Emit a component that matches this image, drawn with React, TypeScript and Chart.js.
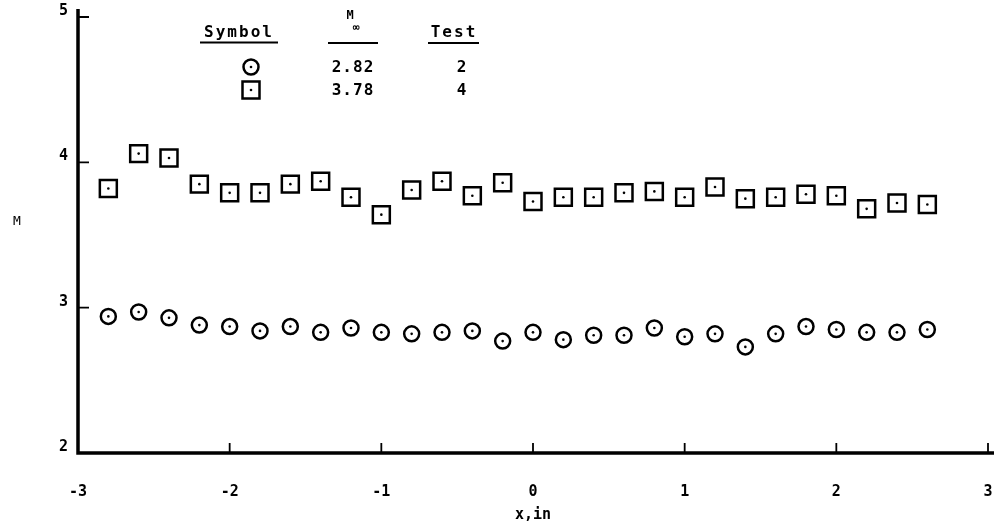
import { useEffect, useRef } from "react";
import { Chart, registerables } from "chart.js";

Chart.register(...registerables);

// Survey stations along the model (inches)
const stations = [
  -2.8, -2.6, -2.4, -2.2, -2.0, -1.8, -1.6, -1.4, -1.2, -1.0, -0.8, -0.6, -0.4, -0.2,
  0.0, 0.2, 0.4, 0.6, 0.8, 1.0, 1.2, 1.4, 1.6, 1.8, 2.0, 2.2, 2.4, 2.6,
];

// Local Mach number, test 2 (M∞ = 2.82)
const machTest2 = [
  2.94, 2.97, 2.93, 2.88, 2.87, 2.84, 2.87, 2.83, 2.86, 2.83, 2.82, 2.83, 2.84, 2.77,
  2.83, 2.78, 2.81, 2.81, 2.86, 2.8, 2.82, 2.73, 2.82, 2.87, 2.85, 2.83, 2.83, 2.85,
];

// Local Mach number, test 4 (M∞ = 3.78)
const machTest4 = [
  3.82, 4.06, 4.03, 3.85, 3.79, 3.79, 3.85, 3.87, 3.76, 3.64, 3.81, 3.87, 3.77, 3.86,
  3.73, 3.76, 3.76, 3.79, 3.8, 3.76, 3.83, 3.75, 3.76, 3.78, 3.77, 3.68, 3.72, 3.71,
];

const xTicks = [-3, -2, -1, 0, 1, 2, 3];
const yTicks = [2, 3, 4, 5];

const legendSymbols = ["circle", "rect"];
const legendMach = ["2.82", "3.78"];
const legendTest = ["2", "4"];

const MONO = '"DejaVu Sans Mono", "Liberation Mono", monospace';

function drawMarker(ctx: CanvasRenderingContext2D, kind: string, x: number, y: number) {
  ctx.save();
  ctx.lineWidth = 2.5;
  ctx.strokeStyle = "#000";
  ctx.fillStyle = "#fff";
  ctx.beginPath();
  if (kind === "circle") ctx.arc(x, y, 7.5, 0, Math.PI * 2);
  else ctx.rect(x - 8.5, y - 8.5, 17, 17);
  ctx.fill();
  ctx.stroke();
  ctx.fillStyle = "#000";
  ctx.beginPath();
  ctx.arc(x, y, 1.3, 0, Math.PI * 2);
  ctx.fill();
  ctx.restore();
}

// Heavy axis lines with inward-pointing tick marks
const axesPlugin = {
  id: "inwardAxes",
  afterDraw(chart: any) {
    const { ctx, chartArea } = chart;
    const { left, right, top, bottom } = chartArea;
    const xs = chart.scales.x;
    const ys = chart.scales.y;
    ctx.save();
    ctx.strokeStyle = "#000";
    ctx.lineCap = "butt";
    ctx.lineWidth = 3.5;
    ctx.beginPath();
    ctx.moveTo(left, top - 8);
    ctx.lineTo(left, bottom);
    ctx.lineTo(right + 6, bottom);
    ctx.stroke();
    ctx.lineWidth = 1.8;
    ctx.beginPath();
    xTicks.slice(1).forEach((v) => {
      const px = xs.getPixelForValue(v);
      ctx.moveTo(px, bottom);
      ctx.lineTo(px, bottom - 10);
    });
    yTicks.slice(1).forEach((v) => {
      const py = ys.getPixelForValue(v);
      ctx.moveTo(left, py);
      ctx.lineTo(left + 11, py);
    });
    ctx.stroke();
    ctx.restore();
  },
};

// Centre dots in each open marker
const centerDots = {
  id: "centerDots",
  afterDatasetsDraw(chart: any) {
    const { ctx } = chart;
    ctx.save();
    ctx.fillStyle = "#000";
    chart.data.datasets.forEach((_: any, i: number) => {
      chart.getDatasetMeta(i).data.forEach((pt: any) => {
        ctx.beginPath();
        ctx.arc(pt.x, pt.y, 1.3, 0, Math.PI * 2);
        ctx.fill();
      });
    });
    ctx.restore();
  },
};

// Key table and the ordinate label
const keyTable = {
  id: "keyTable",
  afterDraw(chart: any) {
    const { ctx } = chart;
    ctx.save();
    ctx.fillStyle = "#000";
    ctx.strokeStyle = "#000";
    ctx.textAlign = "center";
    ctx.textBaseline = "alphabetic";
    ctx.font = `bold 16px ${MONO}`;
    (ctx as any).letterSpacing = "2px";
    ctx.fillText("Symbol", 239, 37);
    ctx.fillText("Test", 454, 37);
    ctx.font = `bold 12px ${MONO}`;
    (ctx as any).letterSpacing = "0px";
    ctx.fillText("M", 350, 19);
    ctx.font = `bold 11px ${MONO}`;
    ctx.fillText("\u221E", 356, 31);
    ctx.lineWidth = 1.8;
    ctx.beginPath();
    ctx.moveTo(200, 42.5);
    ctx.lineTo(278, 42.5);
    ctx.moveTo(328, 43);
    ctx.lineTo(378, 43);
    ctx.moveTo(428, 43);
    ctx.lineTo(479, 43);
    ctx.stroke();

    ctx.font = `bold 16px ${MONO}`;
    (ctx as any).letterSpacing = "1px";
    ctx.textBaseline = "middle";
    legendSymbols.forEach((s, i) => {
      const y = 67 + i * 23;
      drawMarker(ctx, s, 251, y);
      ctx.fillText(legendMach[i], 353, y + 1);
      ctx.fillText(legendTest[i], 462, y + 1);
    });

    (ctx as any).letterSpacing = "0px";
    ctx.font = `13px ${MONO}`;
    ctx.fillText("M", 17, 222);
    ctx.restore();
  },
};

export default function App() {
  const ref = useRef<HTMLCanvasElement | null>(null);

  useEffect(() => {
    if (!ref.current) return;
    const chart = new Chart(ref.current, {
      type: "scatter",
      data: {
        datasets: [
          {
            label: "Test 2",
            data: stations.map((x, i) => ({ x, y: machTest2[i] })),
            pointStyle: "circle",
            pointRadius: 7.5,
            borderWidth: 2.5,
            borderColor: "#000",
            backgroundColor: "#fff",
          },
          {
            label: "Test 4",
            data: stations.map((x, i) => ({ x, y: machTest4[i] })),
            pointStyle: "rect",
            pointRadius: 12,
            borderWidth: 2.5,
            borderColor: "#000",
            backgroundColor: "#fff",
          },
        ],
      },
      options: {
        responsive: false,
        animation: false,
        devicePixelRatio: 1,
        layout: { padding: { top: 17, right: 16, left: 0, bottom: 0 } },
        plugins: { legend: { display: false }, tooltip: { enabled: false } },
        scales: {
          x: {
            type: "linear",
            min: -3,
            max: 3,
            afterBuildTicks: (s: any) => {
              s.ticks = xTicks.map((v) => ({ value: v }));
            },
            afterFit: (s: any) => {
              s.height = 79;
              s.paddingLeft = 0;
              s.paddingRight = 0;
            },
            grid: { display: false, drawTicks: false },
            border: { display: false },
            ticks: {
              padding: 30,
              color: "#000",
              font: { family: MONO, weight: "bold", size: 15 },
              callback: (v: any) => String(v),
            },
            title: {
              display: true,
              text: "x,in",
              color: "#000",
              font: { family: MONO, weight: "bold", size: 15 },
              padding: { top: 0, bottom: 8 },
            },
          },
          y: {
            type: "linear",
            min: 2,
            max: 5,
            afterBuildTicks: (s: any) => {
              s.ticks = yTicks.map((v) => ({ value: v }));
            },
            afterFit: (s: any) => {
              s.width = 78;
              s.paddingTop = 0;
              s.paddingBottom = 0;
            },
            grid: { display: false, drawTicks: false },
            border: { display: false },
            ticks: {
              padding: 10,
              labelOffset: -6,
              color: "#000",
              font: { family: MONO, weight: "bold", size: 15 },
            },
          },
        },
      },
      plugins: [axesPlugin, centerDots, keyTable],
    });
    return () => chart.destroy();
  }, []);

  return (
    <div style={{ position: "absolute", left: 0, top: 0, width: 1004, height: 532, background: "#fff" }}>
      <canvas ref={ref} width={1004} height={532} />
    </div>
  );
}
